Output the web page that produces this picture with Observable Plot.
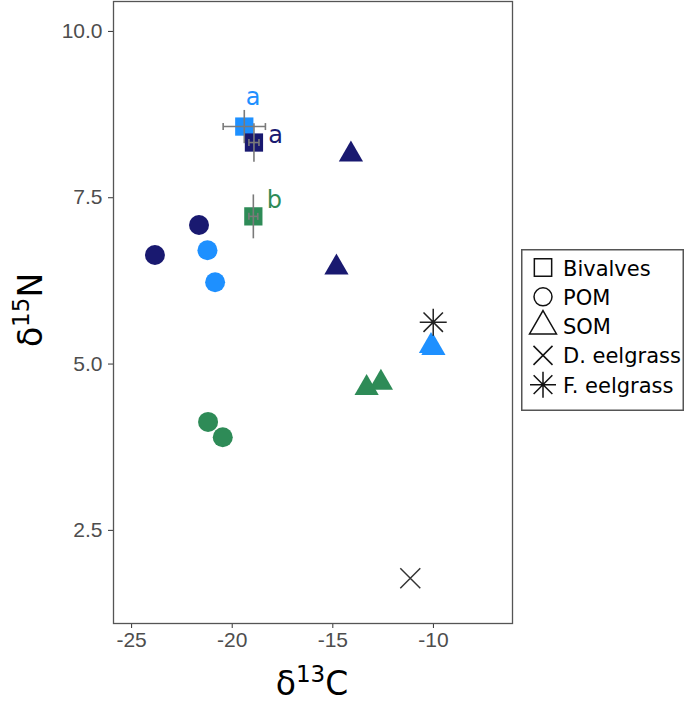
<!DOCTYPE html>
<html><head><meta charset="utf-8">
<script src="https://cdn.jsdelivr.net/npm/d3@7"></script>
<script src="https://cdn.jsdelivr.net/npm/@observablehq/plot@0.6"></script>
<style>
body{margin:0;background:#fff;}
#wrap{position:relative;width:685px;height:704px;overflow:hidden;}
#legend{position:absolute;left:521px;top:249px;}
</style></head><body><div id="wrap"></div>
<script>
// ---- data ----
const siteKeys = ["S1","S2","S3"];
const siteColors = ["#191970","#1E90FF","#2E8B57"];

const bivalveSite = ["S2","S1","S3"];
const bivalveX = [-19.4, -18.92, -18.95];
const bivalveY = [8.57, 8.33, 7.22];
const bivalveXErr = [1.05, 0.25, 0.22];
const bivalveYErr = [0.25, 0.29, 0.33];

const pomSite = ["S1","S1","S2","S2","S3","S3"];
const pomX = [-21.65, -23.84, -21.23, -20.85, -21.2, -20.47];
const pomY = [7.09, 6.64, 6.71, 6.23, 4.13, 3.90];

const somSite = ["S1","S1","S2","S2","S3","S3"];
const somX = [-14.1, -14.82, -10.12, -10.0, -13.32, -12.61];
const somY = [8.15, 6.45, 5.27, 5.24, 4.64, 4.72];

const dEelX = [-11.15], dEelY = [1.78];
const fEelX = [-10.01], fEelY = [5.63];

const letterText = ["a","a","b"];
const letterSite = ["S2","S1","S3"];
const letterX = [-18.96, -17.84, -17.9];
const letterY = [9.015, 8.44, 7.46];

const xTicks = [-25,-20,-15,-10];
const yTicks = [2.5,5.0,7.5,10.0];
const legendLabels = ["Bivalves","POM","SOM","D. eelgrass","F. eelgrass"];

// ---- tables ----
const biv = bivalveX.map((x,i)=>({x, y:bivalveY[i], xe:bivalveXErr[i], ye:bivalveYErr[i], site:bivalveSite[i]}));
const pom = pomX.map((x,i)=>({x, y:pomY[i], site:pomSite[i]}));
const som = somX.map((x,i)=>({x, y:somY[i], site:somSite[i]}));
const dEel = dEelX.map((x,i)=>({x, y:dEelY[i]}));
const fEel = fEelX.map((x,i)=>({x, y:fEelY[i]}));
const letters = letterText.map((t,i)=>({t, x:letterX[i], y:letterY[i], site:letterSite[i]}));

// ---- custom symbols ----
const rOf = s => Math.sqrt(s/Math.PI);
const vCap = {draw(c,s){const r=rOf(s); c.moveTo(0,-r); c.lineTo(0,r);}};
const times = {draw(c,s){const r=rOf(s); c.moveTo(-r,-r); c.lineTo(r,r); c.moveTo(-r,r); c.lineTo(r,-r);}};
const star = {draw(c,s){const r=rOf(s), d=r*0.72;
  c.moveTo(-r,0); c.lineTo(r,0); c.moveTo(0,-r); c.lineTo(0,r);
  c.moveTo(-d,-d); c.lineTo(d,d); c.moveTo(-d,d); c.lineTo(d,-d);}};

const errColor = "#7a7a7a";

const plot = Plot.plot({
  width:685, height:704,
  marginLeft:113, marginRight:173, marginTop:1, marginBottom:81,
  x:{domain:[-25.9,-6.07], label:null},
  y:{domain:[1.1,10.45], label:null},
  color:{domain:siteKeys, range:siteColors},
  style:{fontFamily:"'Liberation Sans', Arial, sans-serif", fontSize:"21px", background:"#fff", color:"#4d4d4d"},
  marks:[
    Plot.axisX({ticks:xTicks, tickFormat:d=>String(d), tickSize:5, tickPadding:4, stroke:"#333", fill:"#4d4d4d", label:null}),
    Plot.axisY({ticks:yTicks, tickFormat:d3.format(".1f"), tickSize:5, tickPadding:6, stroke:"#333", fill:"#4d4d4d", label:null}),
    Plot.dot(pom, {x:"x", y:"y", r:10, fill:"site", symbol:"circle"}),
    Plot.dot(som, {x:"x", y:"y", r:9, fill:"site", symbol:"triangle"}),
    Plot.dot(biv, {x:"x", y:"y", r:10.3, fill:"site", symbol:"square"}),
    Plot.link(biv, {x1:d=>d.x-d.xe, x2:d=>d.x+d.xe, y1:"y", y2:"y", stroke:errColor, strokeWidth:1.6}),
    Plot.link(biv, {x1:"x", x2:"x", y1:d=>d.y-d.ye, y2:d=>d.y+d.ye, stroke:errColor, strokeWidth:1.6}),
    Plot.dot(biv, {x:d=>d.x-d.xe, y:"y", r:3.5, symbol:vCap, stroke:errColor, strokeWidth:1.6, fill:"none"}),
    Plot.dot(biv, {x:d=>d.x+d.xe, y:"y", r:3.5, symbol:vCap, stroke:errColor, strokeWidth:1.6, fill:"none"}),
    Plot.dot(dEel, {x:"x", y:"y", r:10, symbol:times, stroke:"#333", strokeWidth:1.5, fill:"none"}),
    Plot.dot(fEel, {x:"x", y:"y", r:13.5, symbol:star, stroke:"#222", strokeWidth:1.5, fill:"none"}),
    Plot.text(letters, {x:"x", y:"y", text:"t", fill:"site", fontSize:24, fontFamily:"'DejaVu Sans', Verdana, sans-serif"}),
    Plot.frame({stroke:"#555", strokeWidth:1.3})
  ]
});
document.getElementById("wrap").appendChild(plot);

// axis titles with superscripts
const svg = d3.select(plot);
const tx = svg.append("text").attr("x",312).attr("y",695).attr("text-anchor","middle")
  .attr("fill","#000").attr("font-family","'DejaVu Sans', Verdana, sans-serif").attr("font-size",33);
tx.append("tspan").text("δ");
tx.append("tspan").attr("dy",-13).attr("font-size",23).text("13");
tx.append("tspan").attr("dy",13).text("C");
const ty = svg.append("text").attr("transform","translate(42,310) rotate(-90)").attr("text-anchor","middle")
  .attr("fill","#000").attr("font-family","'DejaVu Sans', Verdana, sans-serif").attr("font-size",33);
ty.append("tspan").text("δ");
ty.append("tspan").attr("dy",-13).attr("font-size",23).text("15");
ty.append("tspan").attr("dy",13).text("N");

// legend
const lg = d3.select("#wrap").append("svg").attr("id","legend").attr("width",164).attr("height",163);
lg.append("rect").attr("x",0.75).attr("y",0.75).attr("width",161.5).attr("height",160.5)
  .attr("fill","#fff").attr("stroke","#555").attr("stroke-width",1.5);
const legendSyms = [d3.symbolSquare, d3.symbolCircle, d3.symbolTriangle, times, star];
const legendSizes = [Math.PI*10.3*10.3*0.9, Math.PI*9*9, Math.PI*10*10, Math.PI*9.5*9.5, Math.PI*13*13];
legendLabels.forEach((lab,i)=>{
  const cy = 18.5 + i*29.3;
  lg.append("path").attr("transform",`translate(22,${cy})`)
    .attr("d", d3.symbol(legendSyms[i], legendSizes[i])())
    .attr("fill","none").attr("stroke","#111").attr("stroke-width",1.5);
  lg.append("text").attr("x",42).attr("y",cy+8).text(lab)
    .attr("font-family","'DejaVu Sans', Verdana, sans-serif").attr("font-size",21).attr("fill","#000");
});
</script>
</body></html>
